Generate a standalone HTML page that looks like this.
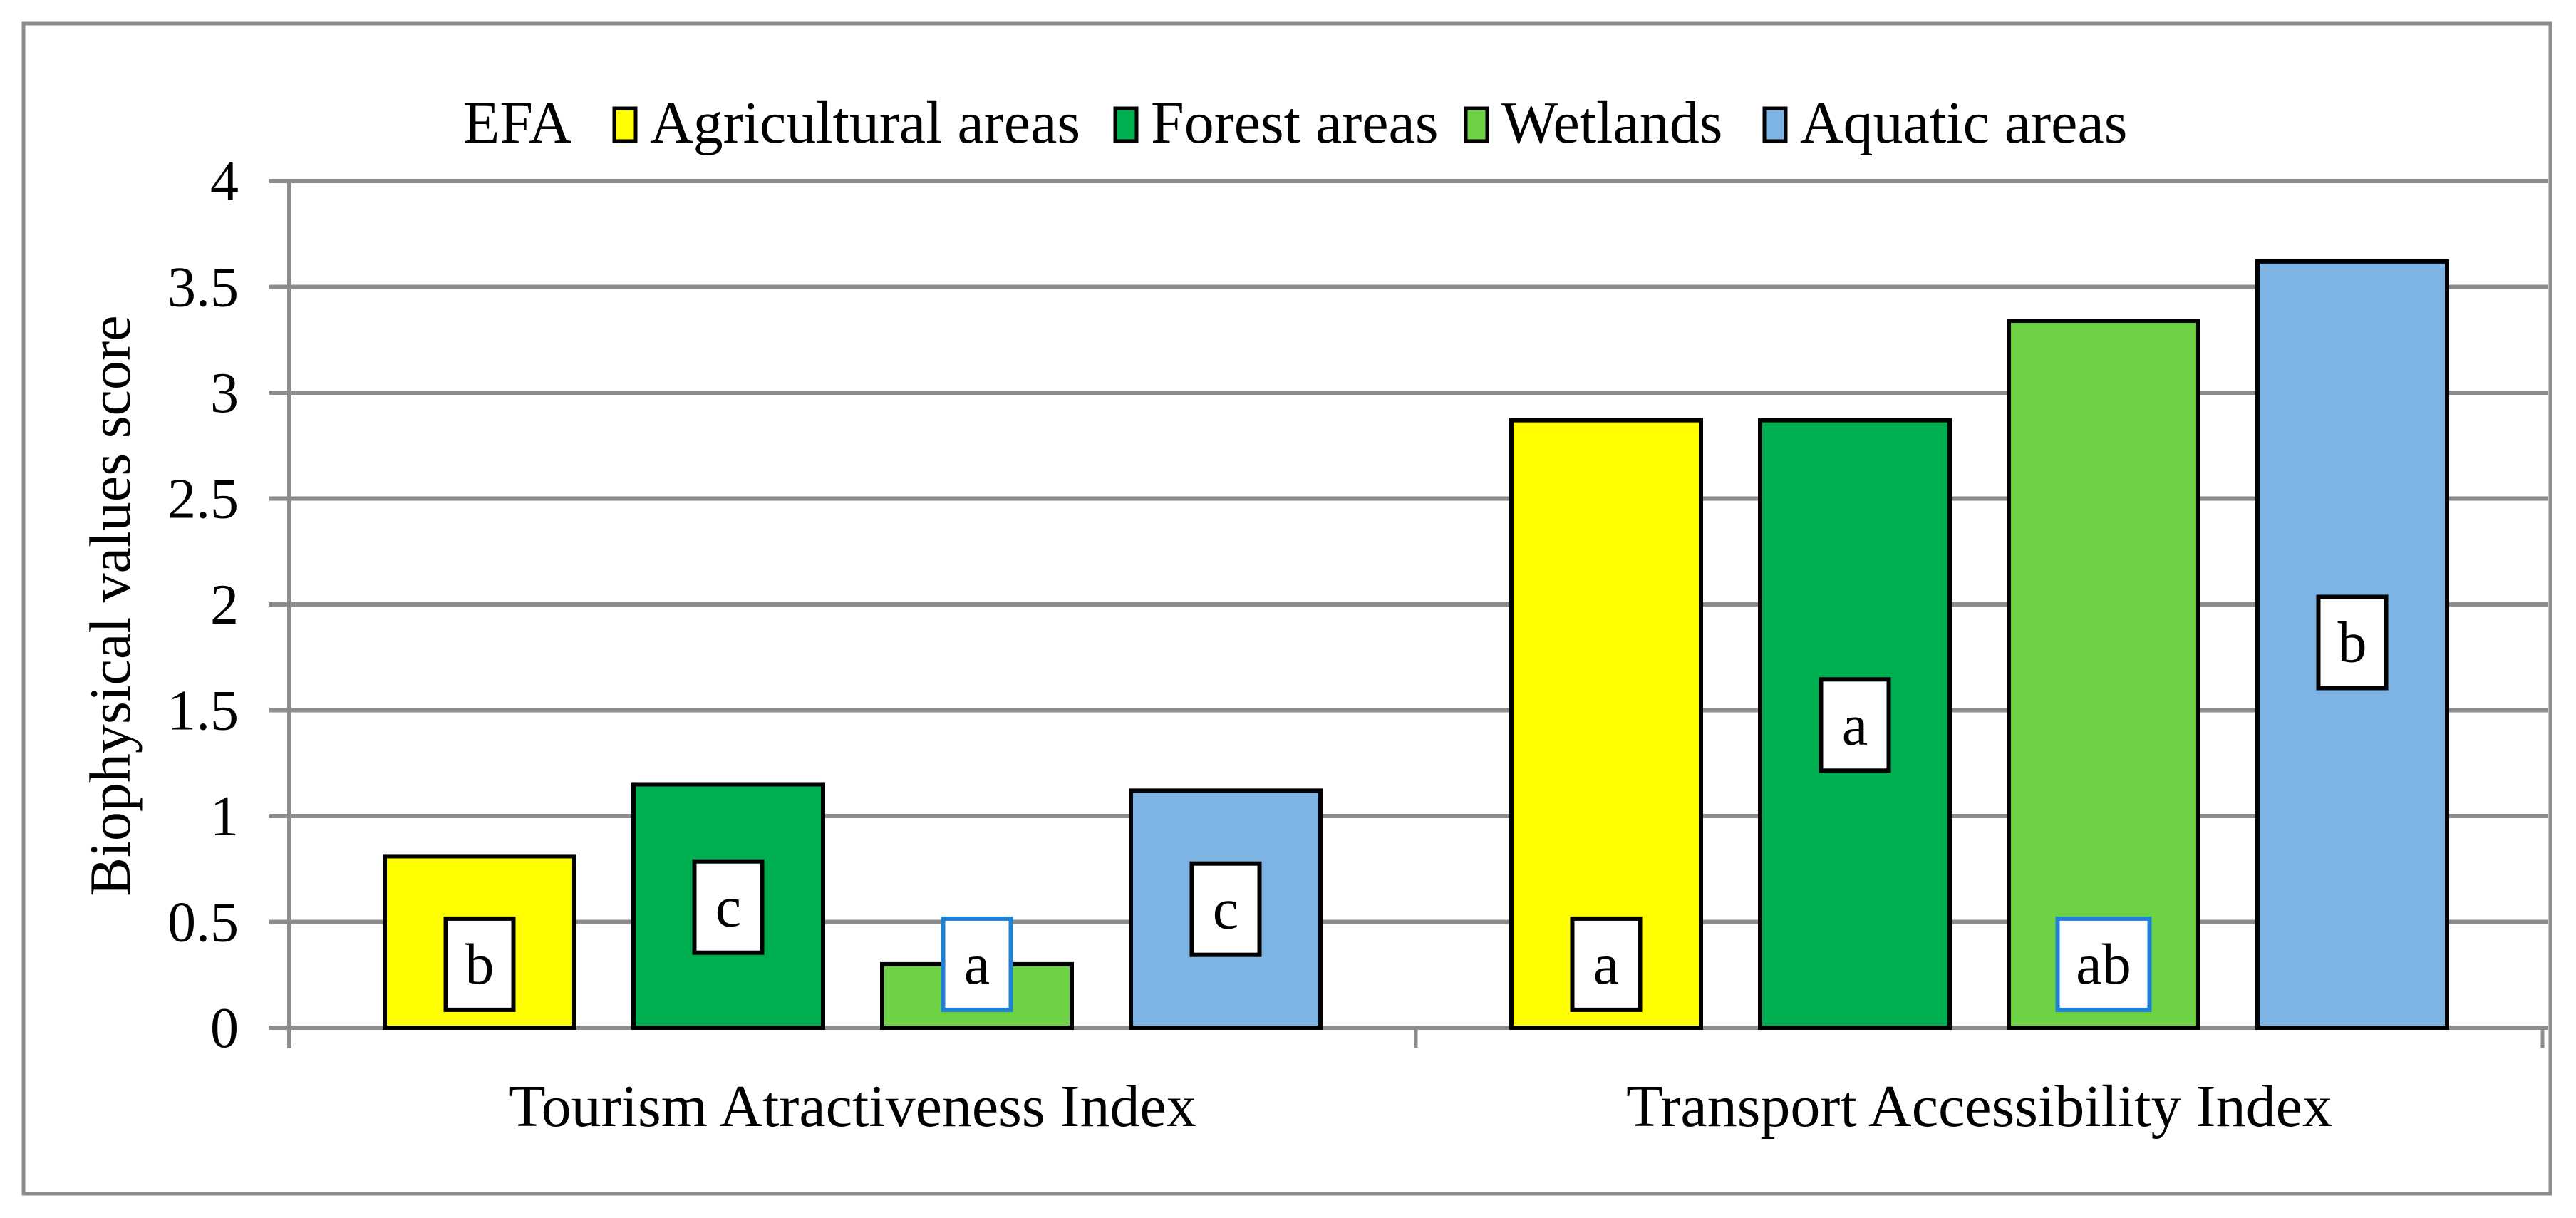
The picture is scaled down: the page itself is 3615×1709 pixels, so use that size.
<!DOCTYPE html>
<html><head><meta charset="utf-8"><style>
html,body{margin:0;padding:0;background:#fff;}
svg{display:block;}
text{font-family:"Liberation Serif","DejaVu Serif",serif;fill:#000;}
</style></head><body>
<svg id="chart" width="3615" height="1709" viewBox="0 0 3615 1709">
<rect x="33" y="33" width="3546" height="1642" fill="#fff" stroke="#8c8c8c" stroke-width="5"/>
<g id="grid"></g>
<g id="bars"></g>
<g id="axes"></g>
<text x="163" y="850" font-size="82" text-anchor="middle" transform="rotate(-90 163 850)" dominant-baseline="middle">Biophysical values score</text>
<g id="legend"></g>
</svg>
<script>
const categories = ["Tourism Atractiveness Index", "Transport Accessibility Index"];
const seriesNames = ["Agricultural areas", "Forest areas", "Wetlands", "Aquatic areas"];
const agricultural = [0.81, 2.87];
const forest = [1.15, 2.87];
const wetlands = [0.30, 3.34];
const aquatic = [1.12, 3.62];
const letters = [["b","c","a","c"],["a","a","ab","b"]];
const letterCenters = [[0.30,0.57,0.30,0.56],[0.30,1.43,0.30,1.82]];
const yTicks = [0, 0.5, 1, 1.5, 2, 2.5, 3, 3.5, 4];

const colors = ["#ffff00","#00b050","#6dd344","#7eb4e4"];
const boxStroke = [["#000","#000","#1f7fd0","#000"],["#000","#000","#1f7fd0","#000"]];
const series = [agricultural, forest, wetlands, aquatic];
const NS = "http://www.w3.org/2000/svg";
const X0 = 406, X1 = 3568, Y0 = 1442, Ytop = 254, YMAX = 4;
const y = v => Y0 - v / YMAX * (Y0 - Ytop);
const catW = (X1 - X0) / categories.length;
const barW = 266, gap = 83;
const barX = (c, s) => X0 + catW * c + (catW - (4 * barW + 3 * gap)) / 2 + s * (barW + gap);
function mk(tag, attrs, parent) {
  const e = document.createElementNS(NS, tag);
  for (const k in attrs) e.setAttribute(k, attrs[k]);
  parent.appendChild(e);
  return e;
}
const grid = document.getElementById('grid');
const axes = document.getElementById('axes');
const bars = document.getElementById('bars');
const legend = document.getElementById('legend');
yTicks.forEach(t => {
  const l = mk('line', {x1: X0 - 28, x2: X1 + 8, y1: y(t), y2: y(t), stroke: '#8c8c8c', 'stroke-width': 6}, grid);
  
  
  const tx = mk('text', {x: 335, y: y(t) + 27, 'font-size': 80, 'text-anchor': 'end'}, axes);
  tx.textContent = String(t);
  
  
});
const ya = mk('line', {x1: X0, x2: X0, y1: Ytop, y2: Y0 + 28, stroke: '#8c8c8c', 'stroke-width': 6}, axes);


for (let c = 0; c <= categories.length; c++) {
  const tk = mk('line', {x1: X0 + catW * c, x2: X0 + catW * c, y1: Y0, y2: Y0 + 28, stroke: '#8c8c8c', 'stroke-width': 5}, axes);
  
  
}
categories.forEach((cat, c) => {
  const t = mk('text', {x: X0 + catW * (c + 0.5), y: 1580, 'font-size': 84, 'text-anchor': 'middle'}, axes);
  t.textContent = cat;
  
  
  series.forEach((vals, s) => {
    const bx = barX(c, s);
    const r = mk('rect', {x: bx, y: y(vals[c]), width: barW, height: Y0 - y(vals[c]), fill: colors[s], stroke: '#000', 'stroke-width': 6}, bars);
    
    
    const lt = letters[c][s];
    const bw = lt.length > 1 ? 129 : 95, bh = 128;
    const cy = y(letterCenters[c][s]);
    const b = mk('rect', {x: bx + barW / 2 - bw / 2, y: cy - bh / 2, width: bw, height: bh, fill: '#fff', stroke: boxStroke[c][s], 'stroke-width': 6}, bars);
    
    
    const lx = mk('text', {x: bx + barW / 2, y: cy + 27, 'font-size': 82, 'text-anchor': 'middle'}, bars);
    lx.textContent = lt;
    
    
  });
});
const efa = mk('text', {x: 650, y: 200, 'font-size': 84}, legend);
efa.textContent = 'EFA';


const legX = [862, 1565, 2057, 2476];
seriesNames.forEach((n, s) => {
  const sq = mk('rect', {x: legX[s], y: 152, width: 30, height: 46, fill: colors[s], stroke: '#000', 'stroke-width': 5}, legend);
  
  
  const t = mk('text', {x: legX[s] + 50, y: 200, 'font-size': 84}, legend);
  t.textContent = n;
  
  
});
</script>
</body></html>
